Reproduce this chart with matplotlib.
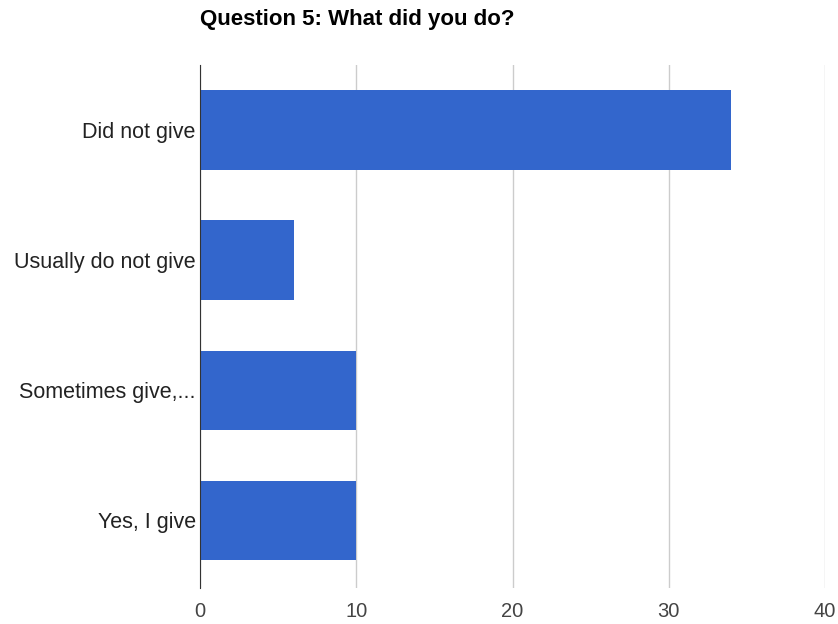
import matplotlib.pyplot as plt

# Survey answers for question 5
answers = ["Did not give", "Usually do not give", "Sometimes give,...", "Yes, I give"]
counts = [34, 6, 10, 10]
x_ticks = [0, 10, 20, 30, 40]

plt.rcParams['font.family'] = ['Liberation Sans', 'DejaVu Sans']

fig = plt.figure(figsize=(8.38, 6.24), dpi=100)
ax = fig.add_axes([200 / 838, 1 - 588 / 624, 625 / 838, 523 / 624])

pos = list(range(len(answers)))
ax.barh(pos, counts, height=0.61, color='#3366cc', zorder=3)

ax.set_ylim(len(answers) - 0.48, -0.5)
ax.set_xlim(0, 40)
ax.set_xticks(x_ticks)
ax.set_xticklabels([str(t) for t in x_ticks], fontsize=14.5, color='#444444')
ax.set_yticks(pos)
ax.set_yticklabels(answers, fontsize=15.5, color='#222222')
ax.tick_params(axis='y', length=0, pad=3)
ax.tick_params(axis='x', length=0, pad=10)

ax.grid(axis='x', color='#cccccc', linewidth=1, zorder=0)
for side in ['top', 'right', 'bottom']:
    ax.spines[side].set_visible(False)
ax.spines['left'].set_color('#333333')
ax.spines['left'].set_zorder(4)

fig.text(200 / 838, 1 - 19 / 624, "Question 5: What did you do?", fontsize=16,
         fontweight='bold', va='center', ha='left', color='#000000')

fig.savefig("out.png", dpi=100)
